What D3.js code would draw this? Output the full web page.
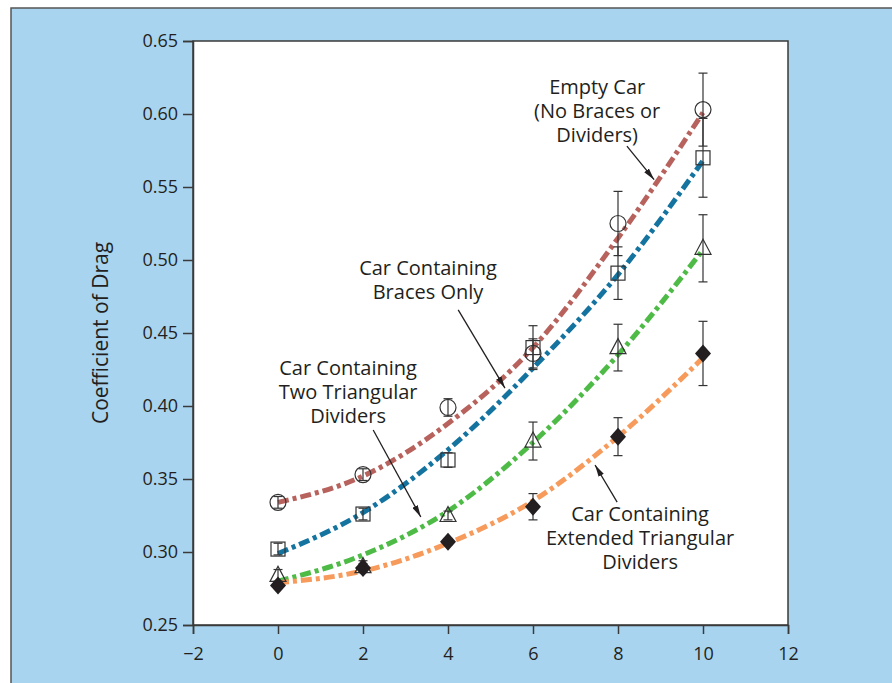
<!DOCTYPE html>
<html>
<head>
<meta charset="utf-8">
<script src="https://cdn.jsdelivr.net/npm/d3@7"></script>
<style>
  body { margin: 0; background: #fff; }
  text { font-family: "Open Sans", sans-serif; fill: #231f20; }
</style>
</head>
<body>
<script>
(function() {

  let xs = [0, 2, 4, 6, 8, 10];
  let emptyCar = [0.334, 0.353, 0.399, 0.436, 0.525, 0.603];
  let emptyErr = [0.004, 0.004, 0.006, 0.010, 0.022, 0.025];
  let bracesOnly = [0.302, 0.326, 0.363, 0.440, 0.491, 0.570];
  let bracesErr = [0.004, 0.004, 0.005, 0.015, 0.018, 0.027];
  let twoTri = [0.284, 0.290, 0.325, 0.376, 0.440, 0.508];
  let twoTriErr = [0.004, 0.004, 0.003, 0.013, 0.016, 0.023];
  let extTri = [0.277, 0.289, 0.307, 0.331, 0.379, 0.436];
  let extTriErr = [0.002, 0.003, 0.002, 0.009, 0.013, 0.022];

  // fitted curves
  let emptyFit = [0.334, 0.352, 0.388, 0.440, 0.515, 0.601];
  let bracesFit = [0.299, 0.327, 0.370, 0.426, 0.490, 0.568];
  let twoTriFit = [0.280, 0.298, 0.328, 0.375, 0.435, 0.507];
  let extTriFit = [0.279, 0.287, 0.306, 0.335, 0.379, 0.433];

  let xTicks = [-2, 0, 2, 4, 6, 8, 10, 12];
  let yTicks = [0.25, 0.30, 0.35, 0.40, 0.45, 0.50, 0.55, 0.60, 0.65];

  let series = [
    { vals: emptyCar, err: emptyErr, fit: emptyFit, color: "#b8625d", marker: "circle" },
    { vals: bracesOnly, err: bracesErr, fit: bracesFit, color: "#14739f", marker: "square" },
    { vals: twoTri, err: twoTriErr, fit: twoTriFit, color: "#4dbb46", marker: "triangle" },
    { vals: extTri, err: extTriErr, fit: extTriFit, color: "#f79b5c", marker: "diamond" }
  ];

  // label anchor (data coords of first baseline), arrow from -> to
  let notes = [
    { lines: ["Empty Car", "(No Braces or", "Dividers)"], x: 7.51, y: 0.6137, from: [8.21, 0.578], to: [8.85, 0.555] },
    { lines: ["Car Containing", "Braces Only"], x: 3.53, y: 0.4897, from: [4.24, 0.4658], to: [5.34, 0.4123] },
    { lines: ["Car Containing", "Two Triangular", "Dividers"], x: 1.65, y: 0.4212, from: [2.24, 0.3836], to: [3.36, 0.324] },
    { lines: ["Car Containing", "Extended Triangular", "Dividers"], x: 8.52, y: 0.3212, from: [7.98, 0.3342], to: [7.46, 0.3596] }
  ];

  let svg = d3.select("body").append("svg")
    .attr("width", 892)
    .attr("height", 683)
    .style("display", "block");

  // blue panel with grey frame
  svg.append("rect")
    .attr("x", 11).attr("y", 8)
    .attr("width", 900).attr("height", 700)
    .attr("fill", "#a9d4ef")
    .attr("stroke", "#555")
    .attr("stroke-width", 1.5);

  let xScale = d3.scaleLinear().domain([-2, 12]).range([193, 788]);
  let yScale = d3.scaleLinear().domain([0.25, 0.65]).range([625, 41]);

  svg.append("rect")
    .attr("x", 193).attr("y", 41)
    .attr("width", 595).attr("height", 584)
    .attr("fill", "#fff")
    .attr("stroke", "#3a3a3a")
    .attr("stroke-width", 1.5);

  let xAxis = d3.axisBottom(xScale).tickValues(xTicks).tickSize(9).tickPadding(13);
  let gx = svg.append("g").attr("transform", "translate(0, 625)").call(xAxis);
  let yAxis = d3.axisLeft(yScale).tickValues(yTicks).tickSize(10).tickPadding(5).tickFormat(d3.format(".2f"));
  let gy = svg.append("g").attr("transform", "translate(193, 0)").call(yAxis);
  [gx, gy].forEach((g) => {
    g.selectAll("path").attr("stroke", "#3a3a3a").attr("stroke-width", 1.5);
    g.selectAll("line").attr("stroke", "#3a3a3a").attr("stroke-width", 1.5);
    g.selectAll("text").style("font-size", "18px").attr("fill", "#231f20");
  });

  svg.append("text")
    .attr("transform", "translate(108, 333)rotate(-90)")
    .attr("text-anchor", "middle")
    .style("font-size", "21px")
    .text("Coefficient of Drag");

  // fitted dash-dot curves
  let line = d3.line()
    .x((d, i) => xScale(xs[i]))
    .y((d) => yScale(d))
    .curve(d3.curveMonotoneX);

  series.forEach((s) => {
    svg.append("path")
      .attr("d", line(s.fit))
      .attr("fill", "none")
      .attr("stroke", s.color)
      .attr("stroke-width", 5)
      .attr("stroke-dasharray", "11,4,4,4");
  });

  // error bars and markers
  series.forEach((s) => {
    let g = svg.append("g");
    s.vals.forEach((v, i) => {
      let cx = xScale(xs[i]);
      let top = yScale(v + s.err[i]);
      let bot = yScale(v - s.err[i]);
      g.append("line").attr("x1", cx).attr("x2", cx).attr("y1", top).attr("y2", bot)
        .attr("stroke", "#333").attr("stroke-width", 1.2);
      [top, bot].forEach((yy) => {
        g.append("line").attr("x1", cx - 4.5).attr("x2", cx + 4.5).attr("y1", yy).attr("y2", yy)
          .attr("stroke", "#333").attr("stroke-width", 1.2);
      });
      let cy = yScale(v);
      if (s.marker == "circle") {
        g.append("circle").attr("cx", cx).attr("cy", cy).attr("r", 8)
          .attr("fill", "none").attr("stroke", "#333").attr("stroke-width", 1.2);
      } else if (s.marker == "square") {
        g.append("rect").attr("x", cx - 7).attr("y", cy - 7).attr("width", 14).attr("height", 14)
          .attr("fill", "none").attr("stroke", "#333").attr("stroke-width", 1.2);
      } else if (s.marker == "triangle") {
        g.append("path")
          .attr("d", "M" + cx + "," + (cy - 9) + "L" + (cx + 8) + "," + (cy + 6) + "L" + (cx - 8) + "," + (cy + 6) + "Z")
          .attr("fill", "none").attr("stroke", "#333").attr("stroke-width", 1.2);
      } else {
        g.append("path")
          .attr("d", "M" + cx + "," + (cy - 9) + "L" + (cx + 8) + "," + cy + "L" + cx + "," + (cy + 9) + "L" + (cx - 8) + "," + cy + "Z")
          .attr("fill", "#231f20");
      }
    });
  });

  // annotations with arrows
  svg.append("defs").append("marker")
    .attr("id", "arrow")
    .attr("viewBox", "0 0 12 6")
    .attr("refX", 12).attr("refY", 3)
    .attr("markerWidth", 12).attr("markerHeight", 6)
    .attr("markerUnits", "userSpaceOnUse")
    .attr("orient", "auto")
    .append("path")
      .attr("d", "M0,0L12,3L0,6Z")
      .attr("fill", "#231f20");

  notes.forEach((n) => {
    let t = svg.append("text")
      .attr("text-anchor", "middle")
      .style("font-size", "20px");
    n.lines.forEach((l, i) => {
      t.append("tspan")
        .attr("x", xScale(n.x))
        .attr("y", yScale(n.y) + i * 24)
        .text(l);
    });
    svg.append("line")
      .attr("x1", xScale(n.from[0])).attr("y1", yScale(n.from[1]))
      .attr("x2", xScale(n.to[0])).attr("y2", yScale(n.to[1]))
      .attr("stroke", "#231f20")
      .attr("stroke-width", 1.3)
      .attr("marker-end", "url(#arrow)");
  });

})();
</script>
</body>
</html>
